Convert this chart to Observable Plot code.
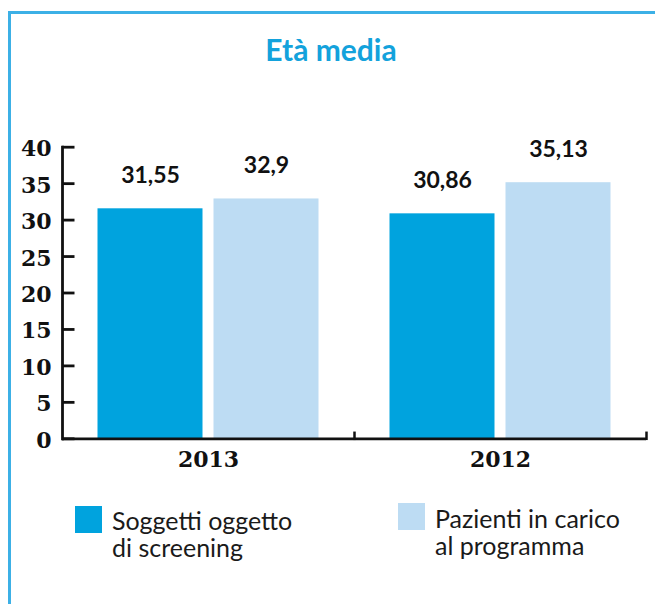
<!DOCTYPE html>
<html><head><meta charset="utf-8">
<script src="https://cdn.jsdelivr.net/npm/d3@7"></script>
<script src="https://cdn.jsdelivr.net/npm/@observablehq/plot@0.6"></script>
<style>
body{margin:0;background:#fff;}
#wrap{position:relative;width:655px;height:604px;overflow:hidden;background:#fff;}
#border{position:absolute;left:8px;top:11px;width:700px;height:700px;border-left:3px solid #3cb0e6;border-top:3px solid #3cb0e6;z-index:5;}
#title{position:absolute;left:0;top:31px;width:662px;text-align:center;font-family:Lato,sans-serif;font-weight:700;font-size:30px;line-height:1.2;color:#13a2dc;}
#chart{position:absolute;left:0;top:0;}
.sq{position:absolute;width:27px;height:27px;}
.lt{position:absolute;font-family:Lato,sans-serif;font-size:25px;line-height:27.5px;color:#1a1a1a;white-space:nowrap;}
</style></head><body>
<div id="wrap">
  <div id="border"></div>
  <div id="title">Età media</div>
  <div id="chart"></div>
  <div class="sq" id="sq0" style="left:75px;top:506px;"></div>
  <div class="lt" id="lt0" style="left:112px;top:506.5px;"></div>
  <div class="sq" id="sq1" style="left:398px;top:503px;"></div>
  <div class="lt" id="lt1" style="left:435px;top:504.5px;"></div>
</div>
<script>
const years = ["2013", "2012"];
const series = ["Soggetti oggetto di screening", "Pazienti in carico al programma"];
const legendLines = [["Soggetti oggetto", "di screening"], ["Pazienti in carico", "al programma"]];
const screening = [31.55, 30.86];
const pazienti = [32.9, 35.13];
const yTicks = [0, 5, 10, 15, 20, 25, 30, 35, 40];
const colors = ["#00a3de", "#bddcf3"];

const data = years.flatMap((y, i) => [
  {year: y, series: series[0], value: screening[i]},
  {year: y, series: series[1], value: pazienti[i]}
]);
const fmt = v => String(v).replace(".", ",");

const W = 655, H = 490;
const mL = 61.5, mR = 8.5, mT = 146.7, mB = 51.7;
const facetW = (W - mL - mR) / years.length;
const plotH = H - mT - mB;
const ink = "#111";

const chart = Plot.plot({
  width: W, height: H,
  marginLeft: mL, marginRight: mR, marginTop: mT, marginBottom: mB,
  style: {background: "transparent", overflow: "visible", color: ink},
  fx: {domain: years, padding: 0, axis: null, label: null},
  x: {domain: series, paddingInner: 0.094, paddingOuter: 0.3, axis: null, label: null},
  y: {domain: [0, 40], axis: null, label: null},
  color: {domain: series, range: colors},
  marks: [
    Plot.barY(data, {fx: "year", x: "series", y: "value", fill: "series"}),
    Plot.text(data, {fx: "year", x: "series", y: "value", text: d => fmt(d.value),
      lineAnchor: "bottom", dy: -26, fontSize: 23, fontWeight: "bold", fontFamily: "Lato", fill: ink}),
    Plot.ruleY([0], {stroke: ink, strokeWidth: 2.8}),
    Plot.frame({anchor: "left", facetAnchor: "left", stroke: ink, strokeWidth: 2.8}),
    Plot.frame({anchor: "right", insetTop: plotH - 6, stroke: ink, strokeWidth: 2.5}),
    Plot.tickY(yTicks, {y: d => d, facetAnchor: "left", insetRight: facetW - 13, stroke: ink, strokeWidth: 2.8}),
    Plot.axisY({ticks: yTicks, tickSize: 0, tickPadding: 11, dy: 2, fontSize: 22, fontWeight: "bold",
      fontFamily: "DejaVu Serif", fill: ink, tickFormat: d => String(d)}),
    Plot.axisFx({anchor: "bottom", tickSize: 0, tickPadding: 12.5, fontSize: 22, fontWeight: "bold",
      fontFamily: "DejaVu Serif", fill: ink})
  ]
});
document.getElementById("chart").appendChild(chart);

series.forEach((s, i) => {
  document.getElementById("sq" + i).style.background = colors[i];
  document.getElementById("lt" + i).innerHTML = legendLines[i].join("<br>");
});
</script>
</body></html>
